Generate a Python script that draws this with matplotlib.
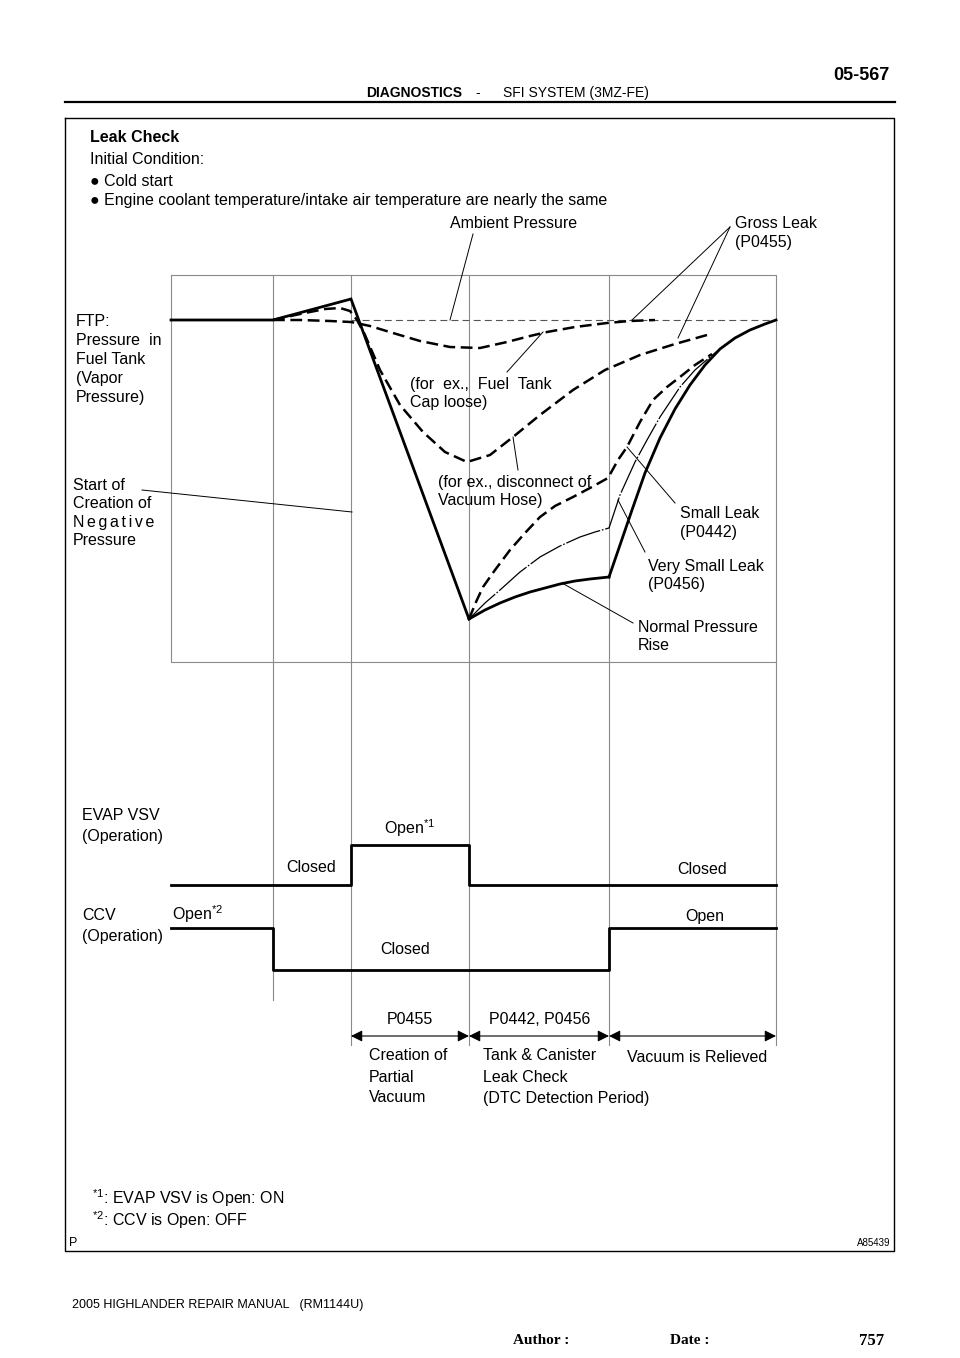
import matplotlib
matplotlib.use("Agg")
import matplotlib.pyplot as plt

plt.rcParams['font.family'] = ['Liberation Sans', 'DejaVu Sans']
plt.rcParams['mathtext.fontset'] = 'custom'
plt.rcParams['mathtext.rm'] = 'Liberation Sans'
plt.rcParams['lines.scale_dashes'] = False

# ---------------- data (diagram coordinates, x = time axis, y = level, pixel-like units) -------------
# phase boundaries (time)
phase_t = [171, 273, 351, 469, 609, 776]

# FTP main solid trace (normal)
main_x = [171, 273, 351, 469]
main_y = [320, 320, 299, 619]
normal_x = [469, 485, 500, 515, 530, 545, 560, 575, 590, 609]
normal_y = [619, 610, 603, 597, 592, 588, 584, 581, 579, 577]
relieve_x = [609, 620, 632, 645, 660, 675, 690, 705, 720, 735, 750, 765, 776]
relieve_y = [577, 545, 510, 473, 438, 409, 385, 365, 349, 338, 330, 324, 320]

# very small leak (thin)
vsmall_x = [469, 485, 500, 520, 540, 560, 580, 595, 609, 620, 635, 647, 660, 680, 695, 710, 720]
vsmall_y = [619, 603, 590, 572, 557, 546, 537, 532, 528, 495, 462, 440, 417, 387, 370, 357, 349]

# small leak (dashed)
small_x = [469, 476, 483, 495, 510, 525, 540, 555, 573, 590, 608, 618, 627, 640, 653, 667, 680, 695, 712]
small_y = [619, 602, 587, 570, 550, 533, 517, 506, 497, 488, 478, 460, 447, 422, 400, 387, 377, 365, 354]

# gross leak - disconnected vacuum hose (dashed)
hose_x = [273, 300, 325, 340, 350, 357, 365, 380, 400, 423, 445, 467, 490, 513, 540, 573, 605, 640, 675, 707]
hose_y = [320, 314, 309, 308, 311, 320, 335, 370, 405, 432, 452, 462, 455, 437, 415, 390, 370, 355, 344, 335]

# gross leak - fuel tank cap loose (dashed)
cap_x = [273, 300, 330, 351, 370, 393, 420, 450, 480, 507, 530, 547, 575, 607, 630, 655]
cap_y = [320, 320, 321, 322, 326, 333, 341, 347, 348, 342, 336, 332, 327, 323, 321, 320]

ambient_y = 320

# valve operation states
evap_t = [171, 351, 469, 776]
evap_level = [885, 845, 885]          # Closed, Open*1, Closed
ccv_t = [171, 273, 609, 776]
ccv_level = [928, 970, 928]           # Open*2, Closed, Open

# ---------------- figure ----------------
fig = plt.figure(figsize=(9.6, 13.58), dpi=100)
ax = fig.add_axes([0, 0, 1, 1])
ax.set_xlim(0, 960)
ax.set_ylim(1358, 0)
ax.axis('off')

K = 'black'
G = '#8a8a8a'
FS = 11.5

# header
ax.text(890, 75, '05-567', fontsize=13, fontweight='bold', ha='right', va='center')
ax.text(462, 93, 'DIAGNOSTICS', fontsize=10, fontweight='bold', ha='right', va='center')
ax.text(478, 93, '-', fontsize=10, ha='center', va='center')
ax.text(503, 93, 'SFI SYSTEM (3MZ-FE)', fontsize=10, ha='left', va='center')
ax.plot([65, 895], [102, 102], color=K, lw=1.6)

# outer frame
ax.plot([65, 894, 894, 65, 65], [118, 118, 1251, 1251, 118], color=K, lw=1.0)

ax.text(90, 137, 'Leak Check', fontsize=FS, fontweight='bold', va='center')
ax.text(90, 160, 'Initial Condition:', fontsize=FS, va='center')
ax.text(90, 182, '\u25cf Cold start', fontsize=FS, va='center')
ax.text(90, 200, '\u25cf Engine coolant temperature/intake air temperature are nearly the same',
        fontsize=FS, va='center')

# graph box and grid (gray)
ax.plot([171, 776, 776], [275, 275, 1045], color=G, lw=0.8)
ax.plot([171, 171, 776], [275, 662, 662], color=G, lw=0.8)
ax.plot([phase_t[1]] * 2, [275, 1000], color=G, lw=0.8)
for t in phase_t[2:5]:
    ax.plot([t, t], [275, 1045], color=G, lw=0.8)

# ambient pressure
ax.plot([351, 776], [ambient_y, ambient_y], color='#555555', lw=0.8, dashes=(5, 3))

# FTP traces
ax.plot(main_x, main_y, color=K, lw=2.0, solid_joinstyle='miter')
ax.plot(normal_x, normal_y, color=K, lw=2.0)
ax.plot(relieve_x, relieve_y, color=K, lw=2.0)
ax.plot(vsmall_x, vsmall_y, color=K, lw=0.9, dashes=(26, 1.3, 1.2, 1.3))
ax.plot(small_x, small_y, color=K, lw=1.8, dashes=(8.5, 4))
ax.plot(hose_x, hose_y, color=K, lw=1.8, dashes=(8.5, 4))
ax.plot(cap_x, cap_y, color=K, lw=1.8, dashes=(8.5, 4))

# leader lines
LW = 0.7
leaders = [((473, 234), (450, 320)),
           ((730, 227), (632, 320)),
           ((730, 227), (678, 338)),
           ((507, 372), (543, 332)),
           ((518, 470), (513, 437)),
           ((675, 503), (627, 447)),
           ((645, 552), (618, 500)),
           ((633, 623), (562, 583)),
           ((142, 490), (352, 512))]
for (x0, y0), (x1, y1) in leaders:
    ax.plot([x0, x1], [y0, y1], color=K, lw=LW)

ax.text(514, 224, 'Ambient Pressure', fontsize=FS, ha='center', va='center')
ax.text(735, 223, 'Gross Leak', fontsize=FS, va='center')
ax.text(735, 242, '(P0455)', fontsize=FS, va='center')

for i, s in enumerate(['FTP:', 'Pressure  in', 'Fuel Tank', '(Vapor', 'Pressure)']):
    ax.text(76, 322 + i * 18.8, s, fontsize=FS, va='center')
sp = '\u2006'
for i, s in enumerate(['Start of', 'Creation of', sp.join('Negative'), 'Pressure']):
    ax.text(73, 485 + i * 18.5, s, fontsize=FS, va='center')

ax.text(410, 384, '(for  ex.,  Fuel  Tank', fontsize=FS, va='center')
ax.text(410, 403, 'Cap loose)', fontsize=FS, va='center')
ax.text(438, 483, '(for ex., disconnect of', fontsize=FS, va='center')
ax.text(438, 501, 'Vacuum Hose)', fontsize=FS, va='center')
ax.text(680, 513, 'Small Leak', fontsize=FS, va='center')
ax.text(680, 532, '(P0442)', fontsize=FS, va='center')
ax.text(648, 566, 'Very Small Leak', fontsize=FS, va='center')
ax.text(648, 585, '(P0456)', fontsize=FS, va='center')
ax.text(638, 627, 'Normal Pressure', fontsize=FS, va='center')
ax.text(638, 645, 'Rise', fontsize=FS, va='center')

# valve operation
ax.text(82, 815, 'EVAP VSV', fontsize=FS, va='center')
ax.text(82, 837, '(Operation)', fontsize=FS, va='center')
ax.text(82, 915, 'CCV', fontsize=FS, va='center')
ax.text(82, 937, '(Operation)', fontsize=FS, va='center')

ax.step(evap_t, evap_level + [evap_level[-1]], where='post', color=K, lw=2.0)
ax.step(ccv_t, ccv_level + [ccv_level[-1]], where='post', color=K, lw=2.0)

ax.text(311, 867, 'Closed', fontsize=FS, ha='center', va='center')
ax.text(410, 828, r'Open$^{\mathrm{*1}}$', fontsize=FS, ha='center', va='center')
ax.text(702, 869, 'Closed', fontsize=FS, ha='center', va='center')
ax.text(172, 914, r'Open$^{\mathrm{*2}}$', fontsize=FS, ha='left', va='center')
ax.text(405, 950, 'Closed', fontsize=FS, ha='center', va='center')
ax.text(705, 917, 'Open', fontsize=FS, ha='center', va='center')

# period arrows
arrow_y = 1036
for a, b in zip(phase_t[2:5], phase_t[3:6]):
    ax.annotate('', xy=(b, arrow_y), xytext=(a, arrow_y),
                arrowprops=dict(arrowstyle='<|-|>', color=K, lw=0.8,
                                mutation_scale=17, shrinkA=0, shrinkB=0))
ax.text(410, 1020, 'P0455', fontsize=FS, ha='center', va='center')
ax.text(540, 1020, 'P0442, P0456', fontsize=FS, ha='center', va='center')
for i, s in enumerate(['Creation of', 'Partial', 'Vacuum']):
    ax.text(369, 1056 + i * 21, s, fontsize=FS, va='center')
for i, s in enumerate(['Tank & Canister', 'Leak Check', '(DTC Detection Period)']):
    ax.text(483, 1056 + i * 21.5, s, fontsize=FS, va='center')
ax.text(627, 1057, 'Vacuum is Relieved', fontsize=FS, va='center')

# footnotes
ax.text(92, 1198, r'$^{\mathrm{*1}}$: EVAP VSV is Open: ON', fontsize=FS, va='center')
ax.text(92, 1220, r'$^{\mathrm{*2}}$: CCV is Open: OFF', fontsize=FS, va='center')
ax.text(69, 1243, 'P', fontsize=9, va='center')
ax.text(890, 1243, 'A85439', fontsize=7, ha='right', va='center')

# page footer
ax.text(72, 1305, '2005 HIGHLANDER REPAIR MANUAL   (RM1144U)', fontsize=9, va='center')
ax.text(513, 1341, 'Author :', fontsize=11, fontweight='bold', family='Liberation Serif', va='center')
ax.text(670, 1341, 'Date :', fontsize=11, fontweight='bold', family='Liberation Serif', va='center')
ax.text(884, 1341, '757', fontsize=12, fontweight='bold', family='Liberation Serif', ha='right', va='center')

fig.savefig('out.png', dpi=100)
